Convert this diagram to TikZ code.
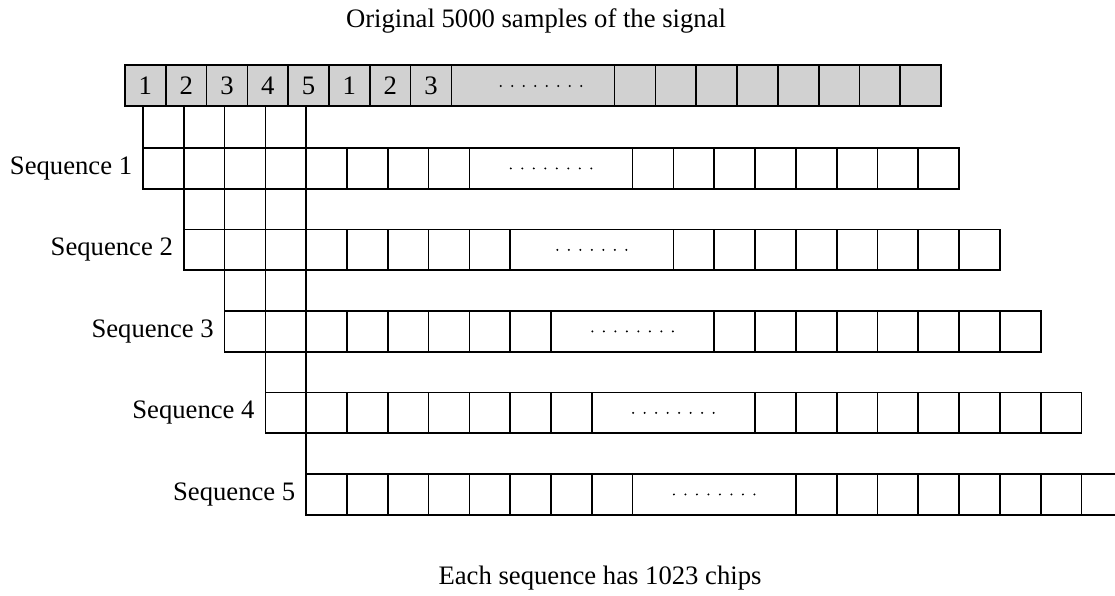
\documentclass[tikz,border=0pt]{standalone}
\usepackage{fontspec}
\setmainfont{Liberation Serif}
\begin{document}
\begin{tikzpicture}[x=0.45pt,y=-0.45pt,line width=0.8pt,font=\fontsize{12}{14}\selectfont,
    seqlabel/.style={anchor=east,inner sep=4.5pt}]
  \useasboundingbox (0,0) rectangle (1115,595);
  \clip (0,0) rectangle (1115,595);
  \def\cw{40.8}
  % original samples
  \draw[fill=black!18] (125,65) rectangle ++(20*\cw,\cw);
  \foreach \k in {1,...,8,12,13,...,19} \draw (125+\k*\cw,65) -- ++(0,\cw);
  \foreach \n [count=\i from 0] in {1,2,3,4,5,1,2,3}
    \node (smp\i) at (125+\i*\cw+\cw/2,65+\cw/2) {\n};
  \foreach \d in {1,...,8} \fill (541+\d*11.5-4.5*11.5,86) circle (1.1);
  % sequences
  \foreach \j/\nd in {1/8,2/7,3/8,4/8,5/8} {
    \pgfmathsetmacro\xa{143+(\j-1)*\cw}
    \pgfmathsetmacro\ya{148+(\j-1)*81.5}
    \draw (\xa,\ya) rectangle ++(20*\cw,\cw);
    \foreach \k in {1,...,8,12,13,...,19} \draw (\xa+\k*\cw,\ya) -- ++(0,\cw);
    \draw (\xa,105.8) -- (\xa,\ya);
    \foreach \d in {1,...,\nd} \fill (\xa+10*\cw+\d*11.5-\nd*5.75-5.75,\ya+\cw/2) circle (1.1);
    \node[seqlabel] (seq\j) at (\xa,\ya+\cw/2) {Sequence \j};
  }
  \node (title) at (536,21) {Original 5000 samples of the signal};
  \node (note) at (600,578) {Each sequence has 1023 chips};
\end{tikzpicture}
\end{document}
